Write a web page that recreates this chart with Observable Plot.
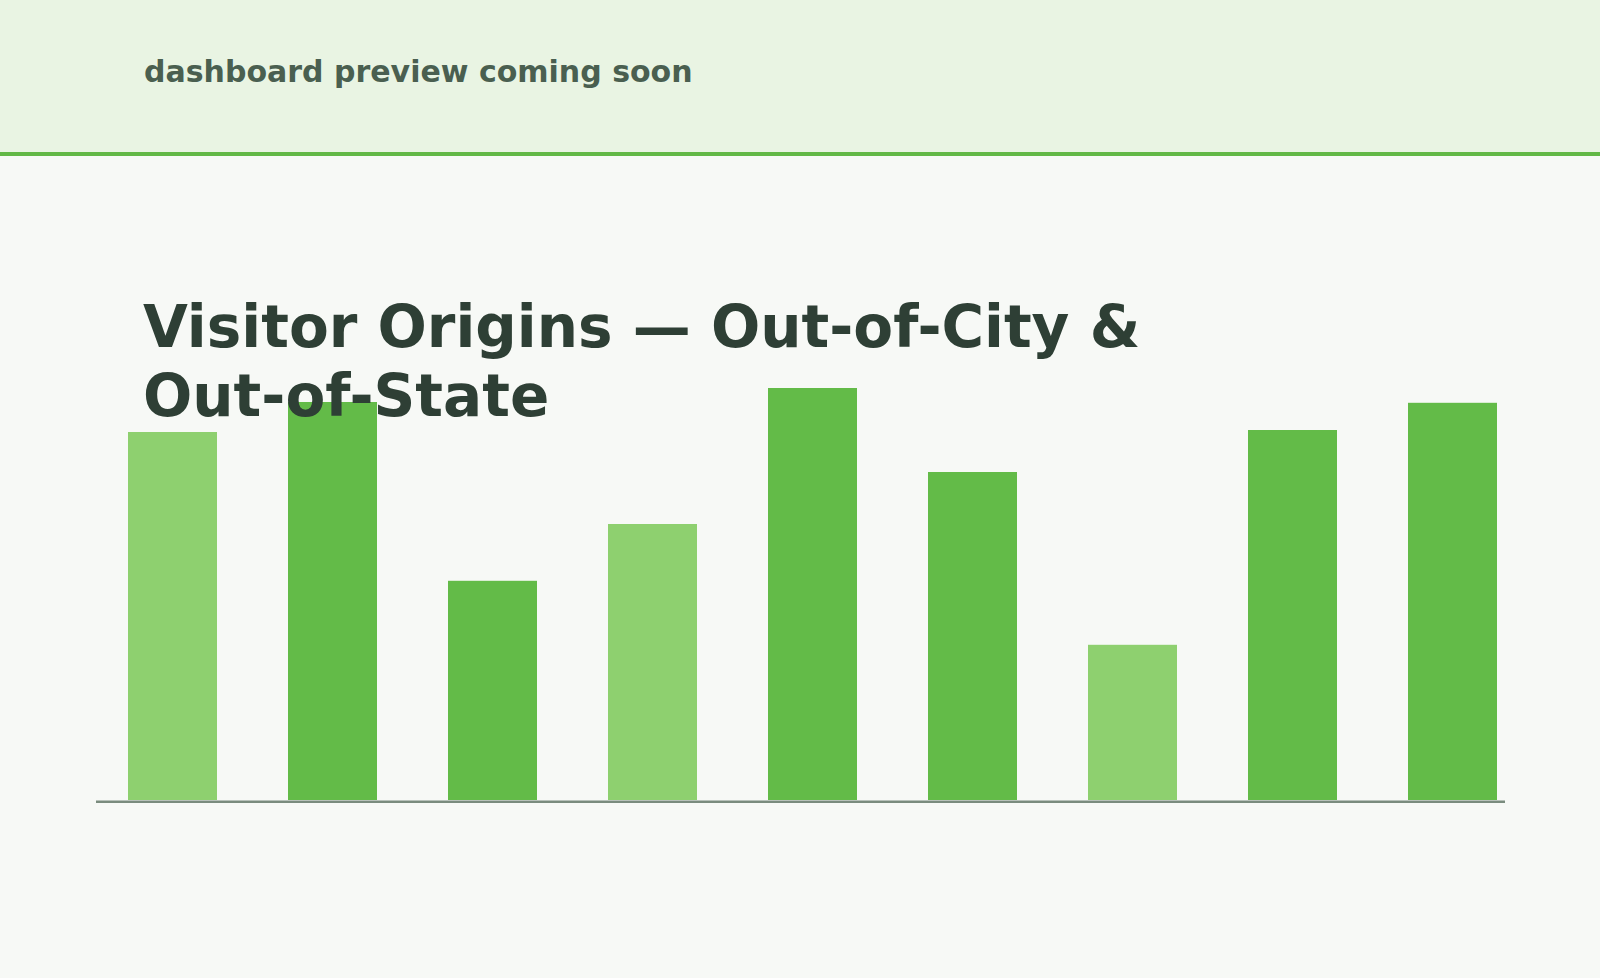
<!DOCTYPE html>
<html>
<head>
<meta charset="utf-8">
<script src="https://cdn.jsdelivr.net/npm/d3@7"></script>
<script src="https://cdn.jsdelivr.net/npm/@observablehq/plot@0.6"></script>
<style>
  html, body { margin: 0; padding: 0; background: #f7f9f6; width: 1600px; height: 978px; overflow: hidden; font-family: "DejaVu Sans", sans-serif; }
  #page { position: relative; width: 1600px; height: 978px; }
  #header { position: absolute; left: 0; top: 0; width: 1600px; height: 152px; background: #e9f4e3; border-bottom: 4px solid #62b846; }
  #header .note { position: absolute; left: 144px; top: 54px; font-size: 30px; font-weight: bold; color: #4a5f50; line-height: normal; white-space: nowrap; }
  #chart { position: absolute; left: 0; top: 156px; }
  #title { position: absolute; left: 143px; top: 293px; width: 1200px; font-size: 58px; line-height: 69px; font-weight: bold; color: #2e3f35; margin: 0; }
  #title .nw { white-space: nowrap; }
</style>
</head>
<body>
<div id="page">
  <div id="header"><div class="note">dashboard preview coming soon</div></div>
  <div id="chart"></div>
  <h1 id="title"><span class="nw">Visitor Origins</span> — <span class="nw">Out-of-City</span> &amp; <span class="nw">Out-of-State</span></h1>
</div>
<script>
// Data
const origins = ["Origin 1", "Origin 2", "Origin 3", "Origin 4", "Origin 5", "Origin 6", "Origin 7", "Origin 8", "Origin 9"];
const visitors = [92, 99.5, 54.8, 69, 103, 82, 38.8, 92.5, 99.3];
const tone = ["light", "dark", "dark", "light", "dark", "dark", "light", "dark", "dark"];

const data = origins.map((o, i) => ({origin: o, value: visitors[i], tone: tone[i]}));

const chart = Plot.plot({
  width: 1600,
  height: 700,
  marginLeft: 96,
  marginRight: 95,
  marginTop: 204,
  marginBottom: 56,
  style: {background: "transparent", overflow: "visible"},
  x: {type: "band", domain: origins, paddingInner: 0.44375, paddingOuter: 0.125, align: 0.8, axis: null},
  y: {domain: [0, 110], axis: null},
  color: {domain: ["light", "dark"], range: ["#8ed06f", "#63bb48"]},
  marks: [
    Plot.barY(data, {x: "origin", y: "value", fill: "tone"}),
    Plot.ruleY([0], {stroke: "#7a8c7e", strokeWidth: 2.6, dy: 1.3})
  ]
});
document.getElementById("chart").appendChild(chart);
</script>
</body>
</html>
